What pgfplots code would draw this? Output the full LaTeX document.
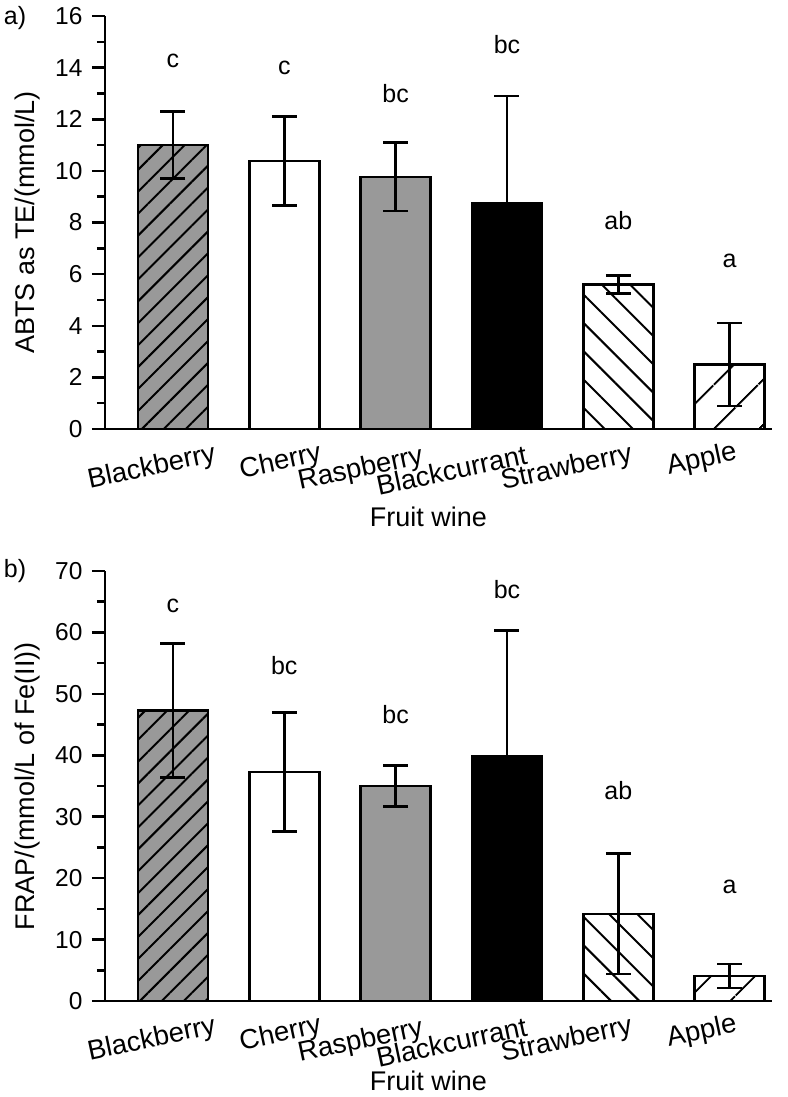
\documentclass[border=0pt]{standalone}
\usepackage{fontspec}
\setmainfont{Liberation Sans}
\usepackage{pgfplots}
\pgfplotsset{compat=1.18}
\usetikzlibrary{patterns.meta}
\definecolor{bargray}{HTML}{999999}
\newcommand\tl[3]{\smash{\makebox[0pt][c]{\hspace*{#1}\hspace*{#1}\raisebox{#2}{#3}}}}
\tikzset{lett/.style={font=\fontsize{25}{30}\selectfont}}
\pgfplotsset{
 myax/.style={
  scale only axis, width=667pt,
  axis lines=left, axis line style={-, line width=2.5pt},
  xmin=-0.61, xmax=5.38, ymin=0,
  xtick={0,...,5},
  xticklabels={\tl{-26pt}{-28pt}{Blackberry},\tl{-8pt}{-26.5pt}{Cherry},\tl{-40pt}{-27pt}{Raspberry},\tl{-60pt}{-25.5pt}{Blackcurrant},\tl{-56pt}{-22.5pt}{Strawberry},\tl{-31pt}{-19pt}{Apple}},
  xtick style={draw=none},
  tick align=outside,
  major tick length=13pt, minor tick length=8pt,
  every tick/.style={line width=2.5pt, black},
  minor y tick num=1,
  yticklabel style={font=\fontsize{24.5}{28}\selectfont, xshift=-6pt},
  xticklabel style={font=\fontsize{27.5}{30}\selectfont, rotate=12, anchor=center, inner sep=0pt},
  /pgf/number format/assume math mode=true,
  label style={font=\fontsize{27}{32}\selectfont},
  clip=false,
  ybar, bar width=70pt,
  error bars/y dir=both, error bars/y explicit,
  error bars/error bar style={line width=2.5pt, black},
  error bars/error mark options={rotate=90, mark size=12.5pt, line width=2.5pt, black},
 },
 barst/.style={draw=black, line width=2.5pt, bar shift=0pt},
}
\begin{document}
\begin{tikzpicture}[x=1pt,y=1pt]
\path[use as bounding box] (0,0) rectangle (787,-1097);
% ---------- panel a ----------
\begin{axis}[myax, at={(105pt,-429pt)}, anchor=south west, height=413pt,
  ymax=16, ytick={0,2,...,16},
  xlabel={Fruit wine}, ylabel={ABTS as TE/(mmol/L)},
  xlabel style={at={(axis description cs:0.485,-0.213)}, anchor=center},
  ylabel style={at={(axis description cs:-0.116,0.5)}, anchor=center}]
\addplot[barst, fill=bargray, postaction={pattern={Lines[angle=45,distance=15.5pt,line width=2pt]}}] coordinates {(0,11.0) +- (0,1.3)};
\addplot[barst, fill=white] coordinates {(1,10.38) +- (0,1.73)};
\addplot[barst, fill=bargray] coordinates {(2,9.77) +- (0,1.33)};
\addplot[barst, fill=black] coordinates {(3,8.75) +- (0,4.15)};
\addplot[barst, fill=white, postaction={pattern={Lines[angle=-45,distance=20pt,line width=2pt]}}] coordinates {(4,5.6) +- (0,0.35)};
\addplot[barst, fill=white, postaction={pattern={Lines[angle=45,distance=32pt,line width=2pt]}}] coordinates {(5,2.5) +- (0,1.6)};
\node[lett] at (axis cs:0,14.26) {c};
\node[lett] at (axis cs:1,14.0) {c};
\node[lett] at (axis cs:2,13.0) {bc};
\node[lett] at (axis cs:3,14.9) {bc};
\node[lett] at (axis cs:4,8.06) {ab};
\node[lett] at (axis cs:5,6.5) {a};
\end{axis}
\node[font=\fontsize{25}{30}\selectfont] at (15,-18) {a)};
% ---------- panel b ----------
\begin{axis}[myax, at={(105pt,-1001pt)}, anchor=south west, height=430pt,
  ymax=70, ytick={0,10,...,70},
  xlabel={Fruit wine}, ylabel={FRAP/(mmol/L of Fe(II))},
  xlabel style={at={(axis description cs:0.485,-0.186)}, anchor=center},
  ylabel style={at={(axis description cs:-0.116,0.5)}, anchor=center}]
\addplot[barst, fill=bargray, postaction={pattern={Lines[angle=45,distance=15.5pt,line width=2pt]}}] coordinates {(0,47.3) +- (0,10.9)};
\addplot[barst, fill=white] coordinates {(1,37.3) +- (0,9.7)};
\addplot[barst, fill=bargray] coordinates {(2,35.0) +- (0,3.35)};
\addplot[barst, fill=black] coordinates {(3,39.8) +- (0,20.5)};
\addplot[barst, fill=white, postaction={pattern={Lines[angle=-45,distance=20pt,line width=2pt]}}] coordinates {(4,14.2) +- (0,9.8)};
\addplot[barst, fill=white, postaction={pattern={Lines[angle=45,distance=32pt,line width=2pt]}}] coordinates {(5,4.1) +- (0,1.95)};
\node[lett] at (axis cs:0,64.4) {c};
\node[lett] at (axis cs:1,54.6) {bc};
\node[lett] at (axis cs:2,46.7) {bc};
\node[lett] at (axis cs:3,66.9) {bc};
\node[lett] at (axis cs:4,34.3) {ab};
\node[lett] at (axis cs:5,18.6) {a};
\end{axis}
\node[font=\fontsize{25}{30}\selectfont] at (15,-571) {b)};
\end{tikzpicture}
\end{document}
